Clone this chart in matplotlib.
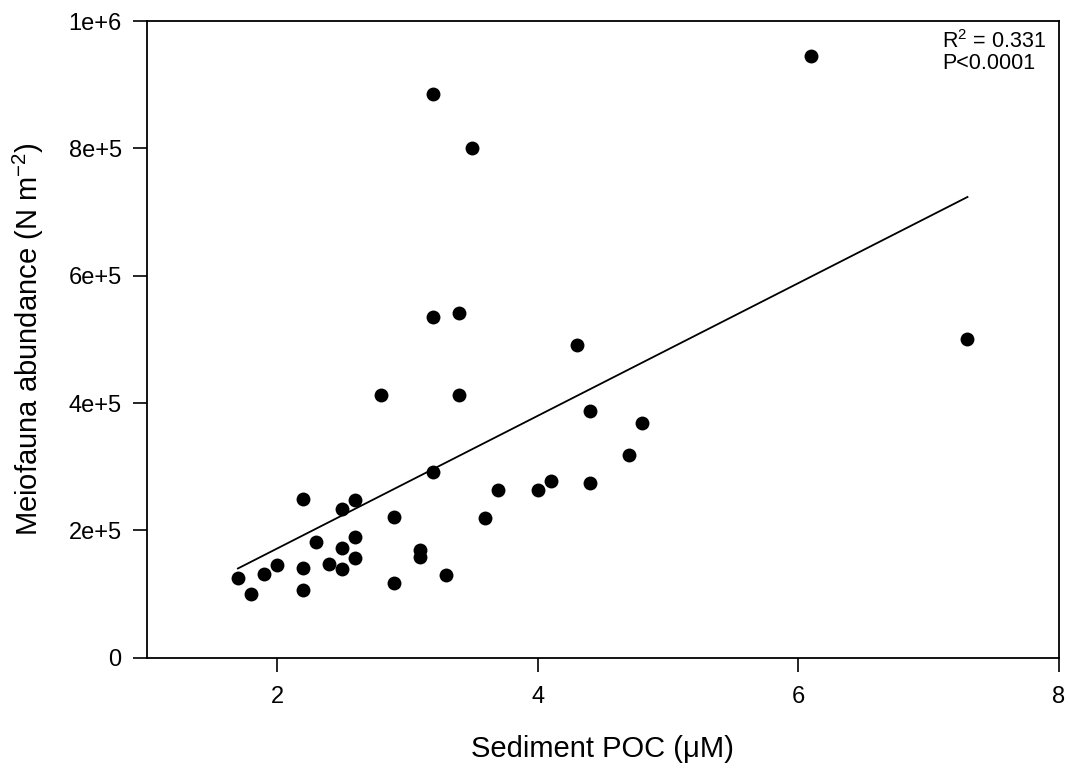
import numpy as np
import matplotlib
matplotlib.use("Agg")
import matplotlib.pyplot as plt

plt.rcParams["font.family"] = ["Liberation Sans", "DejaVu Sans"]
plt.rcParams["mathtext.fontset"] = "custom"
plt.rcParams["mathtext.rm"] = "Liberation Sans"
plt.rcParams["mathtext.it"] = "Liberation Sans:italic"

# sediment POC (uM) vs meiofauna abundance (N m-2)
poc = [1.7, 1.8, 1.9, 2.0, 2.2, 2.2, 2.2, 2.3, 2.4, 2.5, 2.5, 2.5,
       2.6, 2.6, 2.6, 2.8, 2.9, 2.9, 3.1, 3.1, 3.2, 3.2, 3.2, 3.3,
       3.4, 3.4, 3.5, 3.6, 3.7, 4.0, 4.1, 4.3, 4.4, 4.4, 4.7, 4.8,
       6.1, 7.3]
abundance = [125e3, 101e3, 131e3, 145e3, 250e3, 141e3, 106e3, 182e3, 148e3, 234e3, 172e3, 140e3,
             248e3, 189e3, 157e3, 412e3, 221e3, 118e3, 170e3, 159e3, 886e3, 535e3, 292e3, 130e3,
             542e3, 412e3, 800e3, 219e3, 263e3, 264e3, 277e3, 492e3, 388e3, 274e3, 319e3, 369e3,
             945e3, 501e3]

xticks = [2, 4, 6, 8]
yticks = [0, 2e5, 4e5, 6e5, 8e5, 1e6]
ytick_labels = ["0", "2e+5", "4e+5", "6e+5", "8e+5", "1e+6"]

x = np.array(poc)
y = np.array(abundance)
slope, intercept = np.polyfit(x, y, 1)
line_x = np.array([x.min(), x.max()])

fig = plt.figure(figsize=(10.71, 7.73), dpi=100)
ax = fig.add_axes([0.137, 0.149, 0.8515, 0.8238])

ax.scatter(x, y, s=100, color="black", zorder=3, linewidths=0)
ax.plot(line_x, slope * line_x + intercept, color="black", lw=1.3)

ax.set_xlim(1, 8)
ax.set_ylim(0, 1e6)
ax.set_xticks(xticks)
ax.set_yticks(yticks)
ax.set_yticklabels(ytick_labels)
ax.tick_params(direction="out", length=10, width=1.2, labelsize=17)
ax.tick_params(axis="x", pad=10)
ax.tick_params(axis="y", pad=8)
for s in ax.spines.values():
    s.set_linewidth(1.3)

ax.set_xlabel("Sediment POC (\u03bcM)", fontsize=21, labelpad=20)
ax.set_ylabel("Meiofauna abundance (N m$^{-2}$)", fontsize=21, labelpad=16)

ax.text(0.872, 0.985, "R$^2$ = 0.331\nP<0.0001", transform=ax.transAxes,
        fontsize=15.5, va="top", ha="left", linespacing=1.0)

fig.savefig("out.png", dpi=100)
